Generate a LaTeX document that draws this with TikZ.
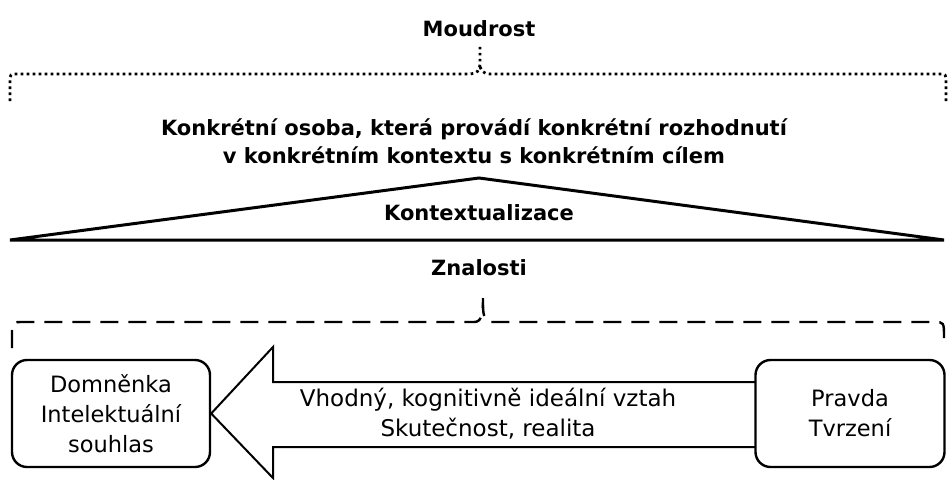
\documentclass[tikz,border=0pt]{standalone}
\usepackage{fontspec}
\setmainfont{DejaVu Sans}
\begin{document}
\begin{tikzpicture}[x=1pt,y=-1pt,
  boldtxt/.style={font=\fontsize{21}{28}\selectfont\bfseries,align=center,inner sep=0pt},
  plaintxt/.style={font=\fontsize{23}{30}\selectfont,align=center,inner sep=0pt},
  roundbox/.style={draw,line width=2.4pt,rounded corners=15pt,fill=white,align=center,
    inner sep=0pt,font=\fontsize{22.5}{30}\selectfont},
  dotbrace/.style={line width=2.8pt,dash pattern=on 2.6pt off 3.4pt},
  dashbrace/.style={line width=2.4pt,dash pattern=on 18pt off 10pt},
  roof/.style={line width=3pt,line join=miter},
  bigarrow/.style={draw,line width=2pt,fill=white,line join=miter}]
\useasboundingbox (0,0) rectangle (949,479);

% top: wisdom and its dotted brace
\node[boldtxt] (moudrost) at (479,29) {Moudrost};
\coordinate (tipA) at (480,45);
\draw[dotbrace] (10,101) -- (10,82) .. controls (10,74) .. (18,74) -- (470,74)
  .. controls (477,74) and (480,70) .. (480,64) -- (tipA);
\draw[dotbrace] (946,101) -- (946,82) .. controls (946,74) .. (938,74) -- (490,74)
  .. controls (483,74) and (480,70) .. (480,64);

\node[boldtxt] (osoba) at (474,141) {Konkrétní osoba, která provádí konkrétní rozhodnutí\\
  v konkrétním kontextu s konkrétním cílem};

% contextualisation roof
\coordinate (apex) at (479,178);
\coordinate (baseL) at (10,240);
\coordinate (baseR) at (944,240);
\draw[roof] (baseL) -- (apex) -- (baseR) -- cycle;
\node[boldtxt] (kontext) at (479,213) {Kontextualizace};
\node[boldtxt] (znalosti) at (479,268) {Znalosti};

% dashed brace over the lower part
\draw[dashbrace] (12,348) -- (12,334) .. controls (12,322) .. (24,322) -- (474,322)
  .. controls (481,322) and (483,316) .. (483,298);
\draw[dashbrace] (944,338) .. controls (944,322) .. (934,322) -- (492,322)
  .. controls (485,322) and (483,316) .. (483,305);

% boxes and the arrow between them
\node[roundbox,minimum width=198pt,minimum height=107pt] (domnenka) at (111,413.5)
  {Domněnka\\Intelektuální\\souhlas};
\draw[bigarrow] (760,382) -- (273,382) -- (273,347) -- (domnenka.east)
  -- (273,478) -- (273,447) -- (760,447);
\node[roundbox,minimum width=189pt,minimum height=107pt] (pravda) at (850,413.5)
  {Pravda\\Tvrzení};
\node[plaintxt] (vztah) at (488,414) {Vhodný, kognitivně ideální vztah\\Skutečnost, realita};
\end{tikzpicture}
\end{document}
